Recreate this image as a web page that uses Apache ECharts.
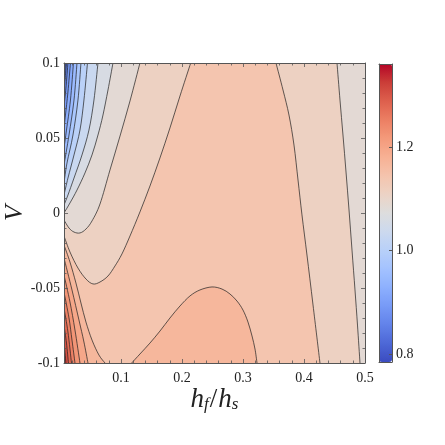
<!DOCTYPE html>
<html>
<head>
<meta charset="utf-8">
<script src="https://cdn.jsdelivr.net/npm/echarts@6/dist/echarts.min.js"></script>
<style>
  html, body { margin: 0; padding: 0; background: #fff; }
  #chart { width: 445px; height: 445px; }
</style>
</head>
<body>
<div id="chart"></div>
<script>
// axis ranges
const xMin = 0.0066, xMax = 0.5, vMin = -0.1, vMax = 0.1;
const cMin = 0.785, cMax = 1.36;

// tick labels
const xTicks = [0.1, 0.2, 0.3, 0.4, 0.5];
const xMinorTicks = [0.02, 0.04, 0.06, 0.08, 0.12, 0.14, 0.16, 0.18, 0.22, 0.24, 0.26, 0.28,
  0.32, 0.34, 0.36, 0.38, 0.42, 0.44, 0.46, 0.48];
const vTicks = [-0.1, -0.05, 0, 0.05, 0.1];
const vMinorTicks = [-0.09, -0.08, -0.07, -0.06, -0.04, -0.03, -0.02, -0.01,
  0.01, 0.02, 0.03, 0.04, 0.06, 0.07, 0.08, 0.09];
const cbarTicks = [0.8, 1.0, 1.2];

// contour levels
const levels = [0.8124, 0.8398, 0.8671, 0.8945, 0.9219, 0.9493, 0.9767, 1.0040, 1.0314, 1.0588,
  1.0862, 1.1136, 1.1410, 1.1683, 1.1957, 1.2231, 1.2505, 1.2779, 1.3052, 1.3326];

// contour lines [hf/hs, V]
// top-left group: top edge -> left edge
const c0812 = [[0.0077, 0.1], [0.0066, 0.096]];
const c0840 = [[0.0087, 0.1], [0.0075, 0.094], [0.0066, 0.0893]];
const c0867 = [[0.0107, 0.1], [0.0082, 0.0887], [0.0066, 0.0807]];
const c0895 = [[0.0131, 0.1], [0.0098, 0.0833], [0.0066, 0.0713]];
const c0922 = [[0.0172, 0.1], [0.0131, 0.0807], [0.0090, 0.0653], [0.0066, 0.0567]];
const c0949 = [[0.0221, 0.1], [0.0172, 0.0753], [0.0107, 0.0553], [0.0066, 0.0433]];
const c0977 = [[0.0279, 0.1], [0.0230, 0.0753], [0.0148, 0.052], [0.0066, 0.032]];
const c1004 = [[0.0344, 0.1], [0.0295, 0.0753], [0.0213, 0.052], [0.0115, 0.0333], [0.0066, 0.02]];
const c1031 = [[0.0451, 0.1], [0.0393, 0.0753], [0.0328, 0.0553], [0.0230, 0.0387], [0.0131, 0.0233], [0.0066, 0.012]];
const c1059 = [[0.0623, 0.1], [0.0557, 0.0753], [0.0475, 0.0553], [0.0361, 0.0387], [0.0230, 0.0233], [0.0131, 0.012], [0.0066, 0.0053]];
const c1086 = [[0.0869, 0.1], [0.0787, 0.082], [0.0705, 0.0653], [0.0623, 0.052], [0.0525, 0.0387],
  [0.0410, 0.0267], [0.0279, 0.0153], [0.0164, 0.0067], [0.0066, 0]];
// 1.1136: left curve (left edge -> top) and right curve (top -> bottom)
const c1114a = [[0.0066, -0.0047], [0.0148, -0.01], [0.0230, -0.0127], [0.0328, -0.0133], [0.0426, -0.0107],
  [0.0525, -0.0053], [0.0656, 0.006], [0.0820, 0.0287], [0.0984, 0.0513], [0.1148, 0.0747], [0.1311, 0.1]];
const c1114b = [[0.4541, 0.1], [0.4590, 0.0753], [0.4639, 0.052], [0.4689, 0.0273], [0.4738, 0.002],
  [0.4787, -0.0247], [0.4836, -0.0513], [0.4877, -0.0747], [0.4918, -0.1]];
// 1.1410
const c1141a = [[0.0066, -0.0153], [0.0164, -0.026], [0.0295, -0.0367], [0.0426, -0.044], [0.0541, -0.0473],
  [0.0656, -0.046], [0.0787, -0.042], [0.0902, -0.0353], [0.1016, -0.0273], [0.1148, -0.0153],
  [0.1311, 0.0007], [0.1475, 0.018], [0.1639, 0.0367], [0.1803, 0.0567], [0.1967, 0.078], [0.2143, 0.1]];
const c1141b = [[0.3541, 0.1], [0.3656, 0.082], [0.3754, 0.0653], [0.3836, 0.0453], [0.3902, 0.022],
  [0.3967, -0.0013], [0.4049, -0.028], [0.4148, -0.0613], [0.4262, -0.1]];
// 1.1683: bottom-left curve and the bump
const c1168a = [[0.0066, -0.0213], [0.0164, -0.0327], [0.0262, -0.0467], [0.0344, -0.06], [0.0426, -0.0727],
  [0.0525, -0.0847], [0.0639, -0.0947], [0.0738, -0.1]];
const c1168b = [[0.1175, -0.1], [0.1311, -0.094], [0.1475, -0.0867], [0.1639, -0.0787], [0.1803, -0.07],
  [0.1967, -0.062], [0.2131, -0.0553], [0.2295, -0.0513], [0.2492, -0.0493], [0.2656, -0.0507],
  [0.2787, -0.054], [0.2902, -0.0587], [0.3, -0.0647], [0.3082, -0.0727], [0.3148, -0.082],
  [0.3197, -0.0907], [0.3230, -0.1]];
// bottom-left group: left edge -> bottom edge
const c1196 = [[0.0066, -0.03], [0.0197, -0.0513], [0.0311, -0.0713], [0.0393, -0.086], [0.0459, -0.1]];
const c1223 = [[0.0066, -0.0413], [0.0164, -0.0593], [0.0246, -0.078], [0.0328, -0.1]];
const c1251 = [[0.0066, -0.0527], [0.0148, -0.07], [0.0197, -0.0847], [0.0246, -0.1]];
const c1278 = [[0.0066, -0.0633], [0.0131, -0.0793], [0.0189, -0.1]];
const c1305 = [[0.0066, -0.0747], [0.0107, -0.0867], [0.0139, -0.1]];
const c1333 = [[0.0066, -0.086], [0.0098, -0.1]];

const coolwarm = ['#3b4cc0', '#4d68d7', '#6282ea', '#779af7', '#8db0fe', '#a3c2ff', '#b8d0f9', '#ccd9ee',
  '#dddddd', '#ecd3c5', '#f5c4ad', '#f7b194', '#f49a7b', '#ec7f63', '#de604d', '#cb3e38', '#b40426'];

const BL = [xMin, vMin], BR = [xMax, vMin], TR = [xMax, vMax], TL = [xMin, vMax];

// filled regions {f > level}, painted in ascending order
const topLeft = [c0812, c0840, c0867, c0895, c0922, c0949, c0977, c1004, c1031, c1059, c1086];
const bottomLeft = [c1196, c1223, c1251, c1278, c1305, c1333];
const regions = [{ value: cMin, parts: [TL, TR, BR, BL] }];
topLeft.forEach((c, i) => regions.push({ value: levels[i], parts: [c, BL, BR, TR] }));
regions.push({ value: levels[11], parts: [c1114a, c1114b, BL] });
regions.push({ value: levels[12], parts: [c1141a, c1141b, BL] });
regions.push({ value: levels[13], parts: [c1168a, BL] });
regions.push({ value: levels[13], parts: [c1168b] });
bottomLeft.forEach((c, i) => regions.push({ value: levels[14 + i], parts: [c, BL] }));

const allLines = topLeft.concat([c1114a, c1114b, c1141a, c1141b, c1168a, c1168b], bottomLeft);

// smooth curve through pixel points (Catmull-Rom as cubic bezier)
function curve(pts, first) {
  let d = (first ? 'M' : 'L') + pts[0][0] + ' ' + pts[0][1];
  for (let i = 0; i < pts.length - 1; i++) {
    const p0 = pts[i - 1] || pts[i], p1 = pts[i], p2 = pts[i + 1], p3 = pts[i + 2] || pts[i + 1];
    const c1 = [p1[0] + (p2[0] - p0[0]) / 6, p1[1] + (p2[1] - p0[1]) / 6];
    const c2 = [p2[0] - (p3[0] - p1[0]) / 6, p2[1] - (p3[1] - p1[1]) / 6];
    d += ' C' + c1[0] + ' ' + c1[1] + ' ' + c2[0] + ' ' + c2[1] + ' ' + p2[0] + ' ' + p2[1];
  }
  return d + ' ';
}

function regionPath(api, parts) {
  let d = '';
  parts.forEach((seg, k) => {
    if (typeof seg[0] === 'number') {
      const q = api.coord(seg);
      d += (k ? 'L' : 'M') + q[0] + ' ' + q[1] + ' ';
    } else {
      d += curve(seg.map(p => api.coord(p)), k === 0);
    }
  });
  return d + 'Z';
}

const font = 'Liberation Serif';
const axisCol = '#555';
const labelStyle = { fontFamily: font, fontSize: 14, color: '#222' };

function mkAxis(dim, pos, ticks, len, extra) {
  return Object.assign({
    type: 'value', gridIndex: 0, position: pos, z: 10,
    min: dim === 'x' ? xMin : vMin, max: dim === 'x' ? xMax : vMax,
    axisLine: { show: true, onZero: false, lineStyle: { color: axisCol, width: 1 } },
    axisTick: { show: true, inside: true, length: len, customValues: ticks, lineStyle: { color: axisCol, width: 0.8 } },
    axisLabel: { show: false },
    splitLine: { show: false }
  }, extra || {});
}
const noLine = { axisLine: { show: false, onZero: false } };

function cbAxis(dim, pos, extra) {
  return Object.assign({
    type: 'value', gridIndex: 1, position: pos, z: 10,
    min: dim === 'x' ? 0 : cMin, max: dim === 'x' ? 1 : cMax,
    axisLine: { show: true, onZero: false, lineStyle: { color: axisCol, width: 1 } },
    axisTick: { show: false }, axisLabel: { show: false }, splitLine: { show: false }
  }, extra || {});
}

const chart = echarts.init(document.getElementById('chart'));
chart.setOption({
  animation: false,
  backgroundColor: '#fff',
  grid: [
    { left: 64, top: 63, width: 301, height: 300, outerBoundsMode: 'none', containLabel: false },
    { left: 379, top: 64, width: 13, height: 298, outerBoundsMode: 'none', containLabel: false }
  ],
  xAxis: [
    mkAxis('x', 'bottom', xTicks, 4, {
      axisLabel: Object.assign({ show: true, customValues: xTicks, margin: 8 }, labelStyle),
      name: '{i|h}{s|f}{n|/}{i|h}{s|s}',
      nameLocation: 'middle', nameGap: 23, nameMoveOverlap: false,
      nameTextStyle: {
        rich: {
          i: { fontFamily: font, fontStyle: 'italic', fontSize: 27, lineHeight: 27, color: '#222' },
          n: { fontFamily: font, fontSize: 27, lineHeight: 27, color: '#222', padding: [0, 1, 0, 1] },
          s: { fontFamily: font, fontStyle: 'italic', fontSize: 17, lineHeight: 12, verticalAlign: 'bottom', color: '#222' }
        }
      }
    }),
    mkAxis('x', 'top', xTicks, 4),
    mkAxis('x', 'bottom', xMinorTicks, 2.5, noLine),
    mkAxis('x', 'top', xMinorTicks, 2.5, noLine),
    cbAxis('x', 'bottom'),
    cbAxis('x', 'top')
  ],
  yAxis: [
    mkAxis('y', 'left', vTicks, 4, {
      axisLabel: Object.assign({ show: true, customValues: vTicks, margin: 4 }, labelStyle),
      name: 'V', nameLocation: 'middle', nameGap: 36, nameRotate: 90, nameMoveOverlap: false,
      nameTextStyle: { fontFamily: font, fontStyle: 'italic', fontSize: 26, color: '#222' }
    }),
    mkAxis('y', 'right', vTicks, 4),
    mkAxis('y', 'left', vMinorTicks, 2.5, noLine),
    mkAxis('y', 'right', vMinorTicks, 2.5, noLine),
    cbAxis('y', 'right', {
      axisTick: { show: true, inside: true, length: 3, customValues: cbarTicks, lineStyle: { color: axisCol } },
      axisLabel: Object.assign({ show: true, customValues: cbarTicks, margin: 4, formatter: v => v.toFixed(1) }, labelStyle)
    }),
    cbAxis('y', 'left')
  ],
  visualMap: {
    type: 'continuous', min: cMin, max: cMax, seriesIndex: 0, dimension: 0,
    left: 379, top: 64, itemWidth: 13, itemHeight: 298, padding: 0,
    calculable: false, hoverLink: false, showLabel: false,
    inRange: { color: coolwarm }
  },
  series: [
    {
      type: 'custom', coordinateSystem: 'cartesian2d', xAxisIndex: 0, yAxisIndex: 0,
      clip: true, silent: true, z: 2,
      data: regions.map((r, i) => [r.value, i]),
      renderItem: (params, api) => ({
        type: 'path',
        shape: { pathData: regionPath(api, regions[params.dataIndex].parts) },
        style: { fill: api.visual('color'), stroke: null }
      })
    },
    {
      type: 'custom', coordinateSystem: 'cartesian2d', xAxisIndex: 0, yAxisIndex: 0,
      clip: true, silent: true, z: 3,
      data: allLines.map((c, i) => [i, 0]),
      renderItem: (params, api) => ({
        type: 'path',
        shape: { pathData: curve(allLines[params.dataIndex].map(p => api.coord(p)), true) },
        style: { fill: 'none', stroke: '#1e1e1e', lineWidth: 0.7 }
      })
    }
  ]
});
</script>
</body>
</html>
